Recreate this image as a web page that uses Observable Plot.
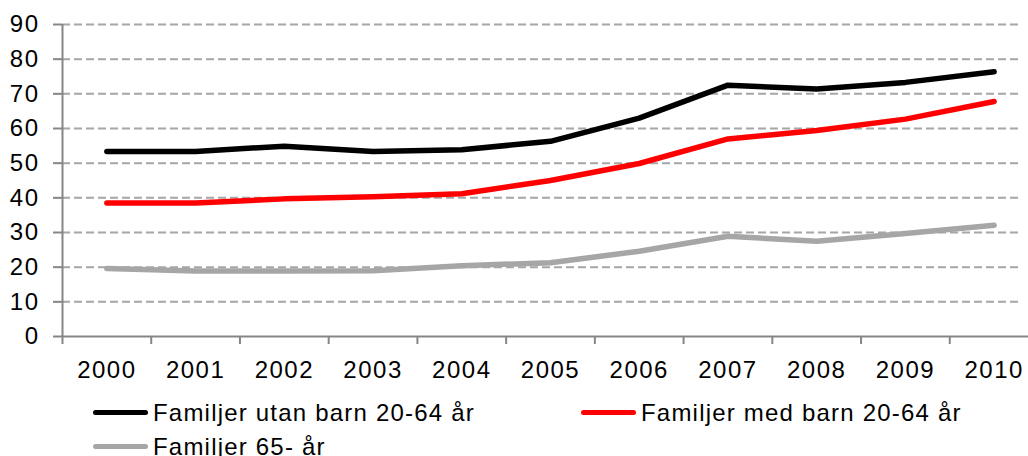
<!DOCTYPE html>
<html>
<head>
<meta charset="utf-8">
<script src="https://cdn.jsdelivr.net/npm/d3@7"></script>
<script src="https://cdn.jsdelivr.net/npm/@observablehq/plot@0.6"></script>
<style>
  html, body { margin: 0; padding: 0; background: #fff; }
  body { width: 1028px; height: 456px; overflow: hidden; font-family: "Liberation Sans", Arial, sans-serif; }
  #chart svg { display: block; overflow: hidden; }
  #chart svg text { letter-spacing: 1.5px; }
  #legend { position: relative; width: 1028px; height: 66px; font-size: 24px; letter-spacing: 1.2px; color: #000; }
  .item { position: absolute; height: 24px; line-height: 24px; white-space: nowrap; }
  .sw { position: absolute; height: 5px; border-radius: 3px; }
</style>
</head>
<body>
<div id="chart"></div>
<div id="legend"></div>
<script>
const years = [2000, 2001, 2002, 2003, 2004, 2005, 2006, 2007, 2008, 2009, 2010];
const seriesNames = ["Familjer utan barn 20-64 år", "Familjer med barn 20-64 år", "Familjer 65- år"];
const seriesColors = ["#000000", "#ff0000", "#a6a6a6"];
const utanBarn = [53.4, 53.4, 54.9, 53.4, 53.9, 56.3, 63.0, 72.5, 71.4, 73.3, 76.4];
const medBarn  = [38.5, 38.5, 39.7, 40.3, 41.2, 45.0, 49.9, 57.0, 59.4, 62.7, 67.8];
const aldre    = [19.6, 18.9, 18.9, 19.0, 20.4, 21.3, 24.6, 28.9, 27.5, 29.7, 32.1];
const yTicks = [0, 10, 20, 30, 40, 50, 60, 70, 80, 90];

const seriesValues = [utanBarn, medBarn, aldre];
const data = seriesNames.flatMap((name, i) =>
  years.map((year, j) => ({series: name, year, value: seriesValues[i][j]})));
const boundaries = [...years.map(y => y - 0.5), years[years.length - 1] + 0.5];

const axisColor = "#868686";
const chart = Plot.plot({
  width: 1028,
  height: 390,
  marginLeft: 62,
  marginRight: 6,
  marginTop: 24,
  marginBottom: 54,
  style: {fontFamily: "'Liberation Sans', Arial, sans-serif", fontSize: "24px", color: "#000", background: "#fff"},
  x: {type: "linear", domain: [boundaries[0], boundaries[boundaries.length - 1]], range: [62, 1038]},
  y: {domain: [0, 90]},
  color: {domain: seriesNames, range: seriesColors},
  marks: [
    Plot.gridY(yTicks.filter(d => d > 0), {stroke: "#a6a6a6", strokeOpacity: 1, strokeWidth: 2, strokeDasharray: "8,4"}),
    Plot.ruleX([boundaries[0]], {y1: 0, y2: 90, stroke: axisColor, strokeWidth: 2}),
    Plot.ruleY([0], {x1: boundaries[0], x2: boundaries[boundaries.length - 1], stroke: axisColor, strokeWidth: 2}),
    Plot.axisY(yTicks, {tickSize: 9, tickPadding: 14, stroke: axisColor, strokeWidth: 2, fill: "#000", fontSize: 24, label: null}),
    Plot.axisX(boundaries, {tickSize: 8, tickFormat: () => "", stroke: axisColor, strokeWidth: 2, label: null}),
    Plot.axisX(years, {tickSize: 0, tickPadding: 24, tickFormat: d => String(d), fill: "#000", fontSize: 24, label: null}),
    Plot.line(data, {x: "year", y: "value", z: "series", stroke: "series", strokeWidth: 5.5, strokeLinecap: "round", strokeLinejoin: "round"})
  ]
});
document.getElementById("chart").appendChild(chart);

const legend = document.getElementById("legend");
const positions = [[93, 0], [581, 0], [93, 1]];
seriesNames.forEach((name, i) => {
  const [x, row] = positions[i];
  const sw = document.createElement("div");
  sw.className = "sw";
  sw.style.left = x + "px";
  sw.style.width = "55px";
  sw.style.top = (19.5 + row * 34) + "px";
  sw.style.background = seriesColors[i];
  legend.appendChild(sw);
  const t = document.createElement("div");
  t.className = "item";
  t.style.left = (x + 60) + "px";
  t.style.top = (10.5 + row * 34) + "px";
  t.textContent = name;
  legend.appendChild(t);
});
</script>
</body>
</html>
